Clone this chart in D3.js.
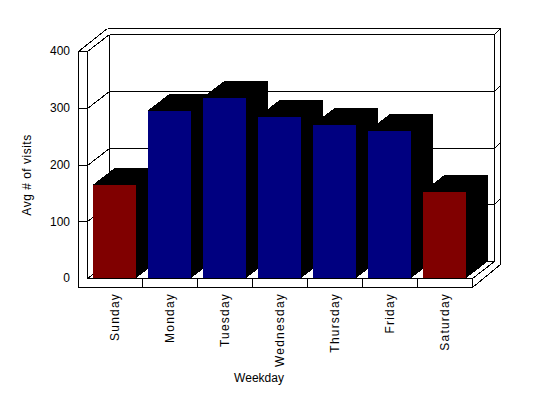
<!DOCTYPE html>
<html>
<head>
<meta charset="utf-8">
<script src="https://cdn.jsdelivr.net/npm/d3@7"></script>
<style>
body { margin: 0; background: #fff; }
svg { display: block; }
text { font-family: Arial, "Liberation Sans", sans-serif; font-size: 12px; fill: #000; }
</style>
</head>
<body>
<script>
// chart data
var days = ['Sunday', 'Monday', 'Tuesday', 'Wednesday', 'Thursday', 'Friday', 'Saturday'];
var visits = [164, 295, 318, 284, 270, 259, 152];
var weekend = ['Sunday', 'Saturday'];
var yTicks = [0, 100, 200, 300, 400];

var svgWidth = 548;
var svgHeight = 398;

// front plane of the 3d box
var plot = {left: 87, right: 472, top: 51, bottom: 278};
var depth = {dx: 22, dy: -17};        // inner depth of the walls / bars
var outer = {dx: 28, dy: -23};        // outer edge of the wall slabs
var wall = 9;                         // thickness of left wall and floor

var svg = d3.select('body')
    .append('svg')
    .attr('width', svgWidth)
    .attr('height', svgHeight)
    .attr('shape-rendering', 'crispEdges');

var xScale = d3.scaleBand()
    .domain(days)
    .range([plot.left, plot.right])
    .paddingInner(0.21)
    .paddingOuter(0.105);

var yScale = d3.scaleLinear()
    .domain([0, 400])
    .range([plot.bottom, plot.top]);

function barColor(day) {
    return weekend.indexOf(day) >= 0 ? '#800000' : '#000080';
}

function px(v) { return Math.round(v) + 0.5; }

function addLine(g, x1, y1, x2, y2) {
    g.append('line')
        .attr('x1', px(x1)).attr('y1', px(y1))
        .attr('x2', px(x2)).attr('y2', px(y2))
        .attr('stroke', '#000')
        .attr('stroke-width', 1);
}

var back = svg.append('g');
var backLeft = plot.left + depth.dx;
var backRight = plot.right + depth.dx;

// back wall grid + left wall diagonals
yTicks.forEach(function(t) {
    var y = yScale(t);
    addLine(back, plot.left, y, backLeft, y + depth.dy);
    addLine(back, backLeft, y + depth.dy, backRight, y + depth.dy);
});
addLine(back, backLeft, plot.top + depth.dy, backLeft, plot.bottom + depth.dy);

// bars: front face + black top and side
var bars = svg.append('g');
days.forEach(function(day, i) {
    var x0 = xScale(day);
    var x1 = x0 + xScale.bandwidth();
    var yt = yScale(visits[i]);
    var yb = yScale(0);
    var top = [[x0, yt], [x0 + depth.dx, yt + depth.dy], [x1 + depth.dx, yt + depth.dy], [x1, yt]];
    var side = [[x1, yt], [x1 + depth.dx, yt + depth.dy], [x1 + depth.dx, yb + depth.dy], [x1, yb]];
    bars.append('polygon').attr('points', top.join(' ')).attr('fill', '#000');
    bars.append('polygon').attr('points', side.join(' ')).attr('fill', '#000');
    bars.append('rect')
        .attr('x', x0)
        .attr('y', yt)
        .attr('width', xScale.bandwidth())
        .attr('height', yb - yt)
        .attr('fill', barColor(day));
});

var frame = svg.append('g');

// floor front face
frame.append('rect')
    .attr('x', plot.left - wall)
    .attr('y', plot.bottom + 1)
    .attr('width', plot.right - plot.left + wall)
    .attr('height', wall - 1)
    .attr('fill', '#fff');
addLine(frame, plot.left, plot.bottom, plot.right, plot.bottom);
addLine(frame, plot.left - wall, plot.bottom + wall, plot.right, plot.bottom + wall);
addLine(frame, plot.right, plot.bottom, plot.right, plot.bottom + wall);
d3.range(1, days.length).forEach(function(i) {
    var x = plot.left + i * xScale.step();
    addLine(frame, x, plot.bottom, x, plot.bottom + wall);
});
addLine(frame, plot.right, plot.bottom, backRight, plot.bottom + depth.dy);
addLine(frame, plot.right, plot.bottom + wall, plot.right + outer.dx, plot.bottom + wall + outer.dy);

// left wall front face
addLine(frame, plot.left - wall, plot.top, plot.left - wall, plot.bottom + wall);
addLine(frame, plot.left, plot.top, plot.left, plot.bottom);
yTicks.slice(1).forEach(function(t) {
    addLine(frame, plot.left - wall, yScale(t), plot.left, yScale(t));
});
addLine(frame, plot.left - wall, plot.top, plot.left - wall + outer.dx + 1, plot.top + outer.dy);

// back wall outer edge and right side
var outerTop = plot.top + outer.dy;
var outerRight = plot.right + outer.dx;
addLine(frame, plot.left - wall + outer.dx + 1, outerTop, outerRight, outerTop);
addLine(frame, backRight, plot.top + depth.dy, backRight, plot.bottom + depth.dy);
addLine(frame, outerRight, outerTop, outerRight, plot.bottom + wall + outer.dy);
yTicks.slice(1).forEach(function(t) {
    var y = yScale(t) + depth.dy;
    addLine(frame, backRight, y, outerRight, y + (outer.dy - depth.dy));
});

// y tick labels
svg.append('g')
    .selectAll('text')
    .data(yTicks)
    .enter()
    .append('text')
    .attr('x', 70)
    .attr('y', function(d) { return yScale(d); })
    .attr('dy', '0.36em')
    .attr('text-anchor', 'end')
    .text(function(d) { return d; });

// x category labels
svg.append('g')
    .selectAll('text')
    .data(days)
    .enter()
    .append('text')
    .attr('transform', function(d) {
        return 'translate(' + (xScale(d) + xScale.bandwidth() / 2 + 4.5) + ',293) rotate(-90)';
    })
    .attr('text-anchor', 'end')
    .style('letter-spacing', '1.2px')
    .text(function(d) { return d; });

// axis titles
svg.append('text')
    .attr('transform', 'translate(30.5,175) rotate(-90)')
    .attr('text-anchor', 'middle')
    .style('letter-spacing', '0.5px')
    .text('Avg # of visits');

svg.append('text')
    .attr('x', 259)
    .attr('y', 382)
    .attr('text-anchor', 'middle')
    .text('Weekday');
</script>
</body>
</html>
